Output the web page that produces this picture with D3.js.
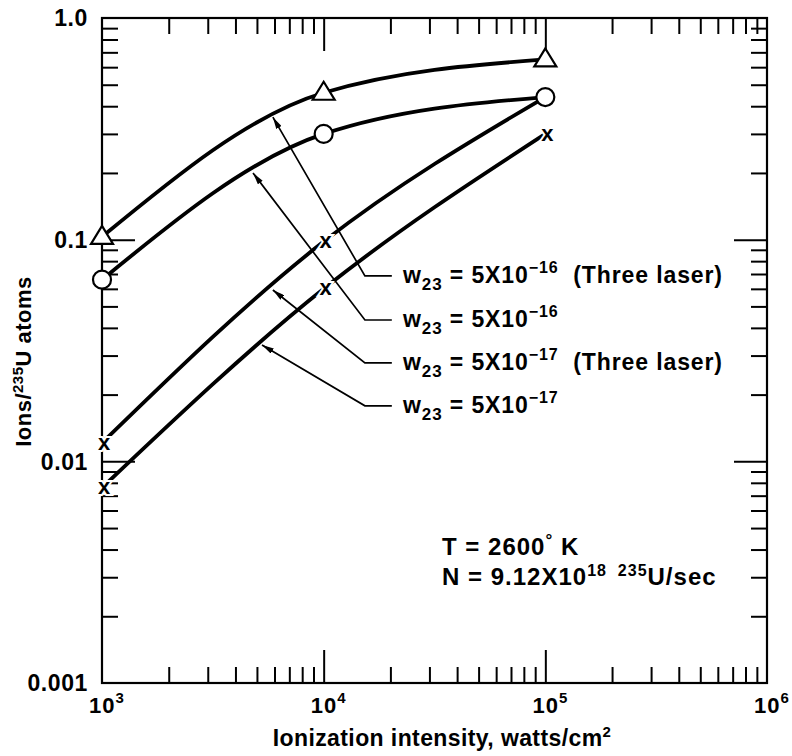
<!DOCTYPE html>
<html>
<head>
<meta charset="utf-8">
<script src="https://cdn.jsdelivr.net/npm/d3@7"></script>
<style>
body { margin: 0; background: #fff; }
text { font-family: "Liberation Sans", Arial, sans-serif; font-weight: bold; fill: #000; }
</style>
</head>
<body>
<div id="chart"></div>
<script>
// values
var intensity = [1e3, 1e4, 1e5];
var threeLaser16 = [0.103, 0.46, 0.65];
var w16 = [0.066, 0.30, 0.44];
var threeLaser17 = [0.0121, 0.098, 0.44];
var w17 = [0.0076, 0.060, 0.30];

var xDecades = [1e3, 1e4, 1e5, 1e6];
var xExponents = ["3", "4", "5", "6"];
var yDecades = [0.001, 0.01, 0.1, 1];
var yTickLabels = ["0.001", "0.01", "0.1", "1.0"];

// legend labels: exponent, suffix, arrow tip on curve, label row value
var labelExp = ["\u221216", "\u221216", "\u221217", "\u221217"];
var labelSuffix = ["  (Three laser)", "", "  (Three laser)", ""];
var tipX = [5900, 4800, 5900, 5270];
var tipY = [0.357, 0.20, 0.0593, 0.0335];
var rowY = [0.0686, 0.0434, 0.0278, 0.0178];
var elbowX = 15350, rowEndX = 20300, textX = 22800;

var margin = {top: 18, right: 25, bottom: 73, left: 102},
  width = 792 - margin.left - margin.right,
  height = 756 - margin.top - margin.bottom;

var svg = d3.select("#chart")
  .append("svg")
  .attr("width", width + margin.left + margin.right)
  .attr("height", height + margin.top + margin.bottom)
  .append("g")
  .attr("transform", "translate(" + margin.left + "," + margin.top + ")");

var x = d3.scaleLog().domain([1e3, 1e6]).range([0, width]);
var y = d3.scaleLog().domain([0.001, 1]).range([height, 0]);

// minor ticks 2..9 of every decade
var xMinor = [], yMinor = [];
[1e3, 1e4, 1e5].forEach(function(d) { for (var k = 2; k < 10; k++) xMinor.push(d * k); });
[0.001, 0.01, 0.1].forEach(function(d) { for (var k = 2; k < 10; k++) yMinor.push(d * k); });

function ticks(axis, vals, len, tr) {
  var g = svg.append("g").attr("transform", tr)
    .call(axis.tickValues(vals).tickSize(-len).tickFormat(""));
  g.select(".domain").remove();
  g.selectAll("line").attr("stroke", "#000").attr("stroke-width", 2);
}
ticks(d3.axisBottom(x), xMinor, 16, "translate(0," + height + ")");
ticks(d3.axisBottom(x), [1e4, 1e5], 33, "translate(0," + height + ")");
ticks(d3.axisTop(x), xMinor, 16, "translate(0,0)");
ticks(d3.axisTop(x), [1e4, 1e5], 33, "translate(0,0)");
ticks(d3.axisLeft(y), yMinor, 16, "translate(0,0)");
ticks(d3.axisLeft(y), [0.01, 0.1], 33, "translate(0,0)");
ticks(d3.axisRight(y), yMinor, 16, "translate(" + width + ",0)");
ticks(d3.axisRight(y), [0.01, 0.1], 33, "translate(" + width + ",0)");

svg.append("rect")
  .attr("width", width).attr("height", height)
  .attr("fill", "none").attr("stroke", "#000").attr("stroke-width", 2.2);

// tick labels
svg.selectAll("text.ylab")
  .data(yDecades)
  .enter()
  .append("text")
    .attr("class", "ylab")
    .attr("x", -14)
    .attr("y", function(d) { return y(d); })
    .attr("dy", "0.36em")
    .attr("text-anchor", "end")
    .attr("font-size", "23px")
    .attr("letter-spacing", "0.6px")
    .text(function(d, i) { return yTickLabels[i]; });

var xl = svg.selectAll("text.xlab")
  .data(xDecades)
  .enter()
  .append("text")
    .attr("class", "xlab")
    .attr("x", function(d) { return x(d) + 5; })
    .attr("y", height + 30)
    .attr("text-anchor", "middle")
    .attr("font-size", "22px")
    .attr("letter-spacing", "1px");
xl.append("tspan").text("10");
xl.append("tspan").attr("dy", -10).attr("font-size", "15px").text(function(d, i) { return xExponents[i]; });

// axis titles
var xt = svg.append("text")
  .attr("x", 340).attr("y", height + 63)
  .attr("text-anchor", "middle")
  .attr("font-size", "23px")
  .attr("letter-spacing", "0.4px");
xt.append("tspan").text("Ionization intensity, watts/cm");
xt.append("tspan").attr("dy", -9).attr("font-size", "15px").text("2");

var yt = svg.append("text")
  .attr("transform", "translate(-71," + (height / 2 + 11) + ") rotate(-90)")
  .attr("text-anchor", "middle")
  .attr("font-size", "22px")
  .attr("letter-spacing", "0.5px");
yt.append("tspan").text("Ions/");
yt.append("tspan").attr("dy", -8).attr("font-size", "15px").text("235");
yt.append("tspan").attr("dy", 8).text("U atoms");

// curves
var line = d3.line()
  .x(function(d) { return x(d[0]); })
  .y(function(d) { return y(d[1]); })
  .curve(d3.curveMonotoneX);

var series = [threeLaser16, w16, threeLaser17, w17];
svg.selectAll("path.curve")
  .data(series)
  .enter()
  .append("path")
    .attr("class", "curve")
    .attr("d", function(s) { return line(d3.zip(intensity, s)); })
    .attr("fill", "none")
    .attr("stroke", "#000")
    .attr("stroke-width", 3.8);

// markers
svg.selectAll("path.tri")
  .data(intensity)
  .enter()
  .append("path")
    .attr("class", "tri")
    .attr("transform", function(d, i) { return "translate(" + x(d) + "," + y(threeLaser16[i]) + ")"; })
    .attr("d", "M0,-11L11,7L-11,7Z")
    .attr("fill", "#fff").attr("stroke", "#000").attr("stroke-width", 2.2);

svg.selectAll("circle.hex")
  .data(intensity)
  .enter()
  .append("circle")
    .attr("class", "hex")
    .attr("cx", function(d) { return x(d); })
    .attr("cy", function(d, i) { return y(w16[i]); })
    .attr("r", 9)
    .attr("fill", "#fff").attr("stroke", "#000").attr("stroke-width", 2.2);

var crosses = [];
intensity.forEach(function(d, i) {
  if (i < 2) crosses.push([d, threeLaser17[i]]);
  crosses.push([d, w17[i]]);
});
svg.selectAll("text.cross")
  .data(crosses)
  .enter()
  .append("text")
    .attr("class", "cross")
    .attr("x", function(d) { return x(d[0]) + 2; })
    .attr("y", function(d) { return y(d[1]); })
    .attr("dy", "0.3em")
    .attr("text-anchor", "middle")
    .attr("font-size", "22px")
    .attr("stroke", "#fff").attr("stroke-width", 4).attr("paint-order", "stroke")
    .text("x");

// leader lines with arrows
svg.append("defs").append("marker")
  .attr("id", "arrow")
  .attr("viewBox", "0 0 12 6")
  .attr("refX", 12).attr("refY", 3)
  .attr("markerWidth", 12).attr("markerHeight", 6)
  .attr("markerUnits", "userSpaceOnUse")
  .attr("orient", "auto")
  .append("path")
    .attr("d", "M0,0L12,3L0,6Z")
    .attr("fill", "#000");

svg.selectAll("path.leader")
  .data(rowY)
  .enter()
  .append("path")
    .attr("class", "leader")
    .attr("d", function(d, i) {
      return "M" + x(rowEndX) + "," + y(d) + "L" + x(elbowX) + "," + y(d) +
        "L" + x(tipX[i]) + "," + y(tipY[i]);
    })
    .attr("fill", "none")
    .attr("stroke", "#000")
    .attr("stroke-width", 1.7)
    .attr("marker-end", "url(#arrow)");

var lab = svg.selectAll("text.lab")
  .data(rowY)
  .enter()
  .append("text")
    .attr("class", "lab")
    .attr("x", x(textX))
    .attr("y", function(d) { return y(d) + 7; })
    .attr("font-size", "23px")
    .attr("letter-spacing", "0.9px")
    .attr("xml:space", "preserve");
lab.append("tspan").text("w");
lab.append("tspan").attr("dy", 7).attr("font-size", "17px").text("23");
lab.append("tspan").attr("dy", -7).text(" = 5X10");
lab.append("tspan").attr("dy", -10).attr("font-size", "16px").text(function(d, i) { return labelExp[i]; });
lab.append("tspan").attr("dy", 10).text(function(d, i) { return labelSuffix[i]; });

// conditions
var t1 = svg.append("text")
  .attr("x", x(34200)).attr("y", y(0.00378))
  .attr("font-size", "24px")
  .attr("letter-spacing", "1px")
  .attr("xml:space", "preserve");
t1.append("tspan").text("T = 2600");
t1.append("tspan").attr("dy", -9).attr("font-size", "17px").text("\u00b0");
t1.append("tspan").attr("dy", 9).text(" K");

var t2 = svg.append("text")
  .attr("x", x(34200)).attr("y", y(0.00277))
  .attr("font-size", "24px")
  .attr("letter-spacing", "1px")
  .attr("xml:space", "preserve");
t2.append("tspan").text("N = 9.12X10");
t2.append("tspan").attr("dy", -9).attr("font-size", "16px").text("18  235");
t2.append("tspan").attr("dy", 9).text("U/sec");
</script>
</body>
</html>
